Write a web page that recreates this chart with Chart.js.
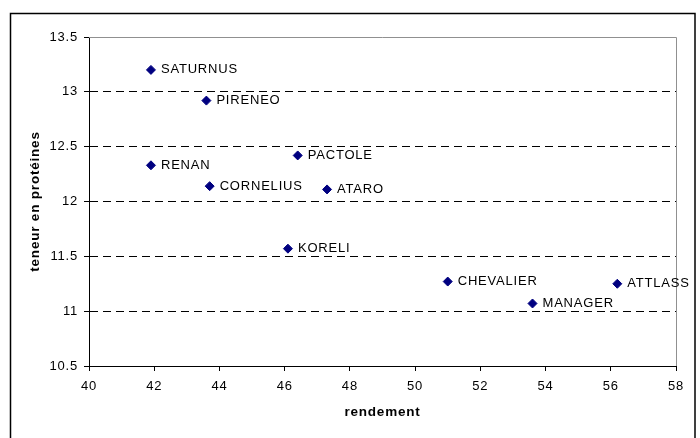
<!DOCTYPE html>
<html>
<head>
<meta charset="utf-8">
<script src="https://cdn.jsdelivr.net/npm/chart.js@4/dist/chart.umd.min.js"></script>
<style>
  body { margin: 0; background: #fff; }
</style>
</head>
<body>
<canvas id="chart" width="700" height="438"></canvas>
<script>
// wheat varieties: yield vs protein content
const varieties = ['SATURNUS', 'PIRENEO', 'RENAN', 'CORNELIUS', 'PACTOLE', 'ATARO', 'KORELI', 'CHEVALIER', 'ATTLASS', 'MANAGER'];
const rendement = [41.9, 43.6, 41.9, 43.7, 46.4, 47.3, 46.1, 51.0, 56.2, 53.6];
const proteines = [13.2, 12.92, 12.33, 12.14, 12.42, 12.11, 11.57, 11.27, 11.25, 11.07];

const xRange = [40, 58];
const yRange = [10.5, 13.5];

Chart.defaults.color = '#000';
Chart.defaults.font.family = '"Liberation Sans", Arial, sans-serif';
Chart.defaults.font.size = 13;

// names next to each point + plot/outer frame
const decorations = {
  id: 'decorations',
  beforeDraw(chart) {
    chart.ctx.letterSpacing = '0.8px';
  },
  beforeDatasetsDraw(chart) {
    const { ctx, chartArea } = chart;
    ctx.save();
    ctx.strokeStyle = '#909090';
    ctx.lineWidth = 1;
    ctx.beginPath();
    ctx.moveTo(chartArea.left, chartArea.top + 0.5);
    ctx.lineTo(chartArea.right + 0.5, chartArea.top + 0.5);
    ctx.lineTo(chartArea.right + 0.5, chartArea.bottom);
    ctx.stroke();
    ctx.restore();
  },
  afterDatasetsDraw(chart) {
    const ctx = chart.ctx;
    const meta = chart.getDatasetMeta(0);
    ctx.save();
    ctx.fillStyle = '#000';
    ctx.font = '13px "Liberation Sans", Arial, sans-serif';
    ctx.textBaseline = 'middle';
    ctx.textAlign = 'left';
    meta.data.forEach((pt, i) => {
      ctx.fillText(varieties[i], pt.x + 10, pt.y);
    });
    ctx.restore();
  },
  afterDraw(chart) {
    const ctx = chart.ctx;
    ctx.save();
    ctx.strokeStyle = '#000';
    ctx.lineWidth = 1.5;
    ctx.strokeRect(10.5, 13.5, 684.5, 440);
    ctx.restore();
  }
};

new Chart(document.getElementById('chart'), {
  type: 'scatter',
  data: {
    datasets: [{
      data: rendement.map((x, i) => ({ x: x, y: proteines[i] })),
      pointStyle: 'rectRot',
      pointRadius: 4.5,
      pointHoverRadius: 4.5,
      backgroundColor: '#000080',
      borderColor: '#000080',
      borderWidth: 1
    }]
  },
  options: {
    responsive: false,
    animation: false,
    layout: { padding: { left: 0, right: 24, top: 37, bottom: 0 } },
    plugins: {
      legend: { display: false },
      tooltip: { enabled: false }
    },
    scales: {
      x: {
        type: 'linear',
        min: xRange[0],
        max: xRange[1],
        afterFit(scale) { scale.height = 72; },
        ticks: { stepSize: 2, padding: 8 },
        grid: {
          drawOnChartArea: false,
          tickLength: 5,
          tickColor: '#000'
        },
        border: { color: '#000', width: 1 },
        title: {
          display: true,
          text: 'rendement',
          font: { weight: 'bold', size: 13.5 },
          padding: { top: 0, bottom: 18 }
        }
      },
      y: {
        type: 'linear',
        min: yRange[0],
        max: yRange[1],
        afterFit(scale) { scale.width = 89; },
        ticks: {
          stepSize: 0.5,
          padding: 6,
          callback: value => String(Number(value.toFixed(1)))
        },
        grid: {
          color: ctx => (ctx.tick && ctx.tick.value > yRange[0] && ctx.tick.value < yRange[1]) ? '#000' : 'rgba(0,0,0,0)',
          tickColor: '#000',
          tickLength: 5,
          tickBorderDash: [1, 0],
          lineWidth: 1
        },
        border: { color: '#000', width: 1, dash: [8, 5] },
        title: {
          display: true,
          text: 'teneur en protéines',
          font: { weight: 'bold', size: 13.5 },
          padding: { top: 27, bottom: 0 }
        }
      }
    }
  },
  plugins: [decorations]
});
</script>
</body>
</html>
